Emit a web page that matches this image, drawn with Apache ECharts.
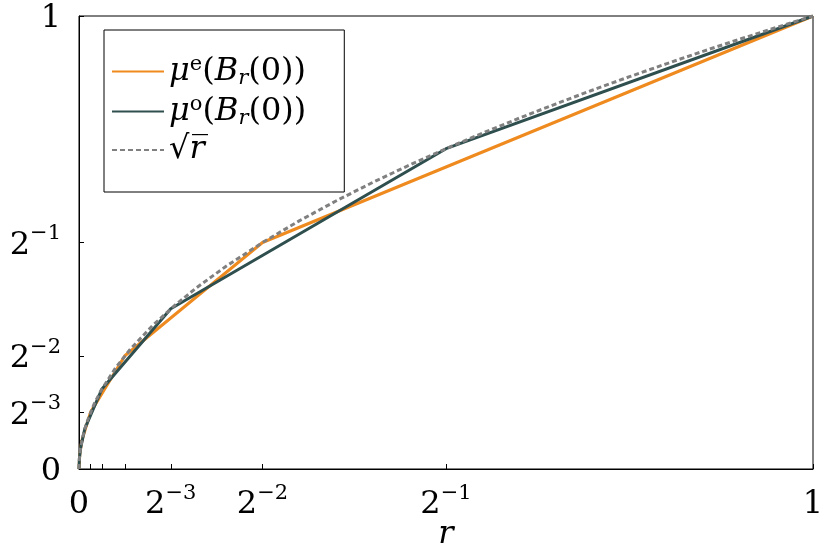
<!DOCTYPE html>
<html>
<head>
<meta charset="utf-8">
<script src="https://cdn.jsdelivr.net/npm/echarts@6/dist/echarts.min.js"></script>
<style>
  html, body { margin: 0; padding: 0; background: #fff; }
  #chart { width: 830px; height: 554px; }
</style>
</head>
<body>
<div id="chart"></div>
<script>
// even / odd measure of the ball
const evenX = [0, 0.0009765625, 0.00390625, 0.015625, 0.0625, 0.25, 1]
const evenY = [0, 0.03125, 0.0625, 0.125, 0.25, 0.5, 1]
const oddX = [0, 0.00048828125, 0.001953125, 0.0078125, 0.03125, 0.125, 0.5, 1]
const oddY = [0, 0.0221, 0.0442, 0.0884, 0.1768, 0.3536, 0.7071, 1]
const sqrtX = [0, 0.0001, 0.0005, 0.002, 0.005, 0.01, 0.02, 0.03, 0.05, 0.07, 0.1, 0.13, 0.16, 0.2, 0.25, 0.3, 0.35, 0.4, 0.45, 0.5, 0.55, 0.6, 0.65, 0.7, 0.75, 0.8, 0.85, 0.9, 0.95, 1]
const sqrtY = [0, 0.01, 0.0224, 0.0447, 0.0707, 0.1, 0.1414, 0.1732, 0.2236, 0.2646, 0.3162, 0.3606, 0.4, 0.4472, 0.5, 0.5477, 0.5916, 0.6325, 0.6708, 0.7071, 0.7416, 0.7746, 0.8062, 0.8367, 0.866, 0.8944, 0.922, 0.9487, 0.9747, 1]

const xTicks = [0, 0.015625, 0.03125, 0.0625, 0.125, 0.25, 0.5, 1]
const xTickLabels = [0, 0.125, 0.25, 0.5, 1]
const yTicks = [0, 0.0625, 0.125, 0.25, 0.5, 1]
const yTickLabels = [0, 0.125, 0.25, 0.5, 1]
const labelText = { 0: "{b|0}", 0.125: "{b|2}{s|−3}", 0.25: "{b|2}{s|−2}", 0.5: "{b|2}{s|−1}", 1: "{b|1}" }

const serif = "DejaVu Serif"
const labelRich = {
  b: { fontFamily: serif, fontSize: 32, lineHeight: 38, verticalAlign: "bottom", color: "#000" },
  s: { fontFamily: serif, fontSize: 21, lineHeight: 21, verticalAlign: "top", color: "#000" }
}

function pairs(xs, ys) {
  return xs.map((x, i) => [x, ys[i]])
}

const chart = echarts.init(document.getElementById("chart"))

chart.setOption({
  animation: false,
  textStyle: { fontFamily: serif },
  grid: {
    left: 79,
    top: 16,
    right: 17,
    bottom: 85,
    outerBoundsMode: "none",
    show: true,
    borderColor: "#000",
    borderWidth: 1
  },
  legend: {
    orient: "vertical",
    left: 104,
    top: 30,
    padding: [24, 38, 26, 7],
    itemGap: 5,
    itemWidth: 52,
    itemHeight: 14,
    borderColor: "#000",
    borderWidth: 1,
    itemStyle: { opacity: 0 },
    data: ["e", "o", "sqrt"],
    formatter: (name) => {
      if (name === "e") return "{m|μ}{sup|e}{n|(}{m|B}{sub|r}{n|(0))}"
      if (name === "o") return "{m|μ}{sup|o}{n|(}{m|B}{sub|r}{n|(0))}"
      return "{n|√}{m|r̅}"
    },
    textStyle: {
      fontFamily: serif,
      rich: {
        m: { fontFamily: serif, fontStyle: "italic", fontSize: 32, lineHeight: 35, color: "#000" },
        n: { fontFamily: serif, fontSize: 32, lineHeight: 35, color: "#000" },
        sup: { fontFamily: serif, fontSize: 21, lineHeight: 22, verticalAlign: "top", color: "#000" },
        sub: { fontFamily: serif, fontStyle: "italic", fontSize: 21, lineHeight: 18, verticalAlign: "bottom", color: "#000" }
      }
    }
  },
  xAxis: {
    type: "value",
    min: 0,
    max: 1,
    name: "r",
    nameLocation: "middle",
    nameGap: 50,
    nameMoveOverlap: false,
    nameTextStyle: { fontFamily: serif, fontStyle: "italic", fontSize: 32, color: "#000" },
    splitLine: { show: false },
    axisLine: { lineStyle: { color: "#000", width: 1 } },
    axisTick: { inside: true, length: 5, customValues: xTicks, lineStyle: { color: "#000" } },
    axisLabel: {
      customValues: xTickLabels,
      margin: 14,
      formatter: (v) => labelText[v],
      color: "#000",
      rich: labelRich
    }
  },
  yAxis: {
    type: "value",
    min: 0,
    max: 1,
    splitLine: { show: false },
    axisLine: { show: true, lineStyle: { color: "#000", width: 1 } },
    axisTick: { show: true, inside: true, length: 5, customValues: yTicks, lineStyle: { color: "#000" } },
    axisLabel: {
      customValues: yTickLabels,
      margin: 18,
      formatter: (v) => labelText[v],
      color: "#000",
      rich: labelRich
    }
  },
  series: [
    {
      name: "e",
      type: "line",
      symbol: "none",
      data: pairs(evenX, evenY),
      lineStyle: { color: "#ef8a1f", width: 3 },
      itemStyle: { color: "#ef8a1f" }
    },
    {
      name: "o",
      type: "line",
      symbol: "none",
      data: pairs(oddX, oddY),
      lineStyle: { color: "#2f4f4f", width: 3 },
      itemStyle: { color: "#2f4f4f" }
    },
    {
      name: "sqrt",
      type: "line",
      symbol: "none",
      data: pairs(sqrtX, sqrtY),
      lineStyle: { color: "#808080", width: 3, type: [5, 3] },
      itemStyle: { color: "#808080" }
    }
  ]
})
</script>
</body>
</html>
